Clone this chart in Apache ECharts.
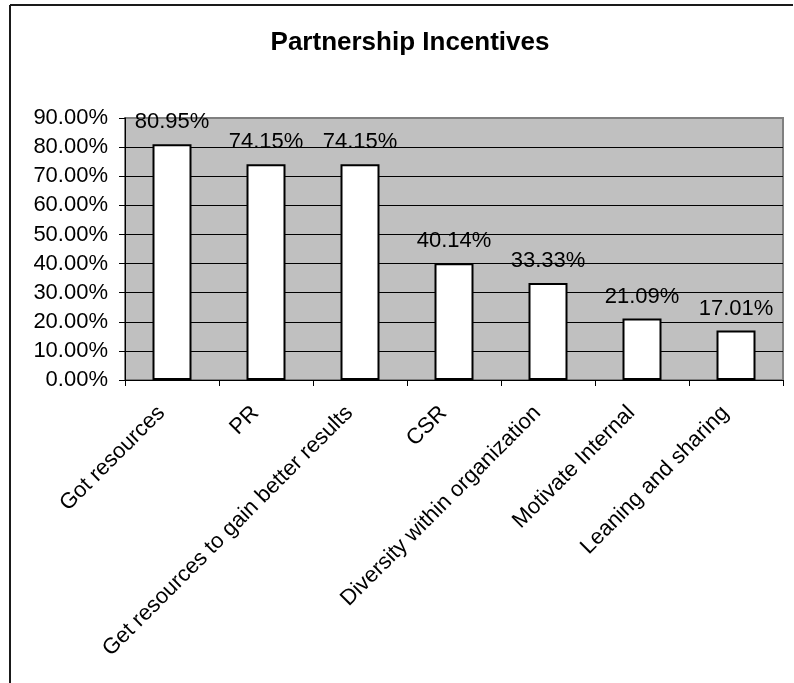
<!DOCTYPE html>
<html>
<head>
<meta charset="utf-8">
<script src="https://cdn.jsdelivr.net/npm/echarts@6/dist/echarts.min.js"></script>
<style>
  html, body { margin: 0; padding: 0; background: #fff; }
  #chart { width: 794px; height: 683px; }
</style>
</head>
<body>
<div id="chart"></div>
<script>
// Partnership incentives: share of respondents per incentive
const categories = [
  'Got resources',
  'PR',
  'Get resources to gain better results',
  'CSR',
  'Diversity within organization',
  'Motivate Internal',
  'Leaning and sharing'
];
const values = [80.95, 74.15, 74.15, 40.14, 33.33, 21.09, 17.01];
const yTicks = { min: 0, max: 90, step: 10 };

const FONT = '"Liberation Sans", Arial, sans-serif';

// grid lines: black, except the top one which shares the gray plot border
const splitColors = [];
for (let v = yTicks.min; v <= yTicks.max; v += yTicks.step) {
  splitColors.push(v === yTicks.max ? '#808080' : '#000000');
}

const chart = echarts.init(document.getElementById('chart'), null, { renderer: 'canvas' });
chart.setOption({
  backgroundColor: '#ffffff',
  animation: false,
  title: {
    text: 'Partnership Incentives',
    left: 405,
    textAlign: 'center',
    top: 25,
    textStyle: { fontFamily: FONT, fontSize: 26, fontWeight: 'bold', color: '#000' }
  },
  graphic: [
    { type: 'line', shape: { x1: 10, y1: 5, x2: 793, y2: 5 }, style: { stroke: '#1a1a1a', lineWidth: 2 } },
    { type: 'line', shape: { x1: 10, y1: 5, x2: 10, y2: 690 }, style: { stroke: '#1a1a1a', lineWidth: 2 } }
  ],
  grid: {
    left: 125, right: 11, top: 118, bottom: 303,
    show: true,
    backgroundColor: '#C0C0C0',
    borderColor: '#808080',
    borderWidth: 2
  },
  xAxis: {
    type: 'category',
    data: categories,
    axisLine: { lineStyle: { color: '#000', width: 1 } },
    axisTick: { show: true, length: 6, lineStyle: { color: '#000' } },
    axisLabel: {
      interval: 0,
      rotate: 45,
      margin: 19,
      padding: [0, 15, 0, 0],
      fontFamily: FONT,
      fontSize: 22,
      color: '#000'
    }
  },
  yAxis: {
    type: 'value',
    min: yTicks.min,
    max: yTicks.max,
    interval: yTicks.step,
    axisLine: { show: true, lineStyle: { color: '#000', width: 1 } },
    axisTick: { show: true, length: 6, lineStyle: { color: '#000' } },
    axisLabel: {
      margin: 17,
      fontFamily: FONT,
      fontSize: 22,
      color: '#000',
      formatter: v => v.toFixed(2) + '%'
    },
    splitLine: { show: true, lineStyle: { color: splitColors, width: 1 } }
  },
  series: [{
    type: 'bar',
    data: values,
    barWidth: 39,
    itemStyle: { color: '#ffffff', borderColor: '#000000', borderWidth: 2 },
    label: {
      show: true,
      position: 'top',
      distance: 11,
      fontFamily: FONT,
      fontSize: 22,
      color: '#000',
      formatter: p => p.value.toFixed(2) + '%'
    }
  }]
});
</script>
</body>
</html>
